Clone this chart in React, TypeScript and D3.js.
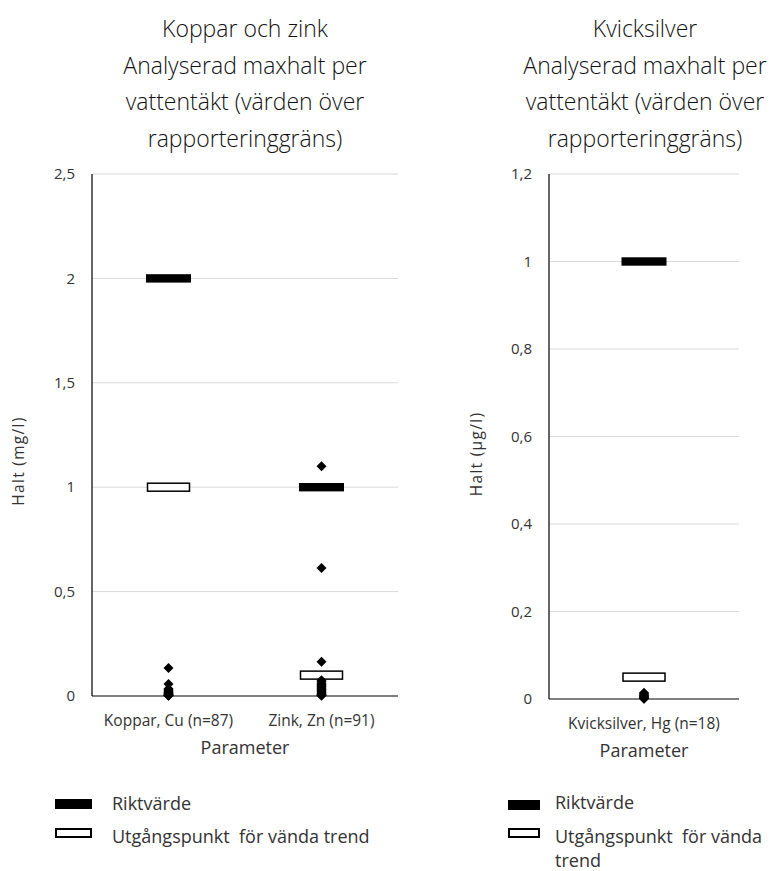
import React from "react";
import * as d3 from "d3";

// ---------- Data ----------
const leftTitle = ["Koppar och zink", "Analyserad maxhalt per", "vattentäkt (värden över", "rapporteringgräns)"];
const rightTitle = ["Kvicksilver", "Analyserad maxhalt per", "vattentäkt (värden över", "rapporteringgräns)"];

const leftCategories = ["Koppar, Cu (n=87)", "Zink, Zn (n=91)"];
const leftRiktvarde = [2, 1];
const leftUtgang = [1, 0.1];
const kopparValues = [0.134, 0.058, 0.035, 0.03, 0.025, 0.02, 0.018, 0.015, 0.012, 0.01, 0.008, 0.006, 0.005, 0.004, 0.003, 0.002, 0.001];
const zinkValues = [1.1, 0.613, 0.164, 0.075, 0.068, 0.06, 0.055, 0.05, 0.045, 0.04, 0.035, 0.03, 0.025, 0.02, 0.015, 0.01, 0.008, 0.005, 0.003, 0.001];
const leftTicks = [0, 0.5, 1, 1.5, 2, 2.5];
const leftYLabel = "Halt (mg/l)";

const rightCategories = ["Kvicksilver, Hg (n=18)"];
const rightRiktvarde = [1];
const rightUtgang = [0.05];
const hgValues = [0.014, 0.012, 0.01, 0.008, 0.006, 0.005, 0.004, 0.003, 0.002, 0.001, 0.0005];
const rightTicks = [0, 0.2, 0.4, 0.6, 0.8, 1, 1.2];
const rightYLabel = "Halt (µg/l)";

const xLabel = "Parameter";
const legendRikt = "Riktvärde";
const legendUtg = "Utgångspunkt  för vända trend";
const legendUtgLine1 = "Utgångspunkt  för vända";
const legendUtgLine2 = "trend";

// ---------- Helpers ----------
const sv = d3.formatLocale({ decimal: ",", thousands: "\u00a0", grouping: [3], currency: ["", " kr"] });
const fmt = sv.format("~g");
const FONT = "'Open Sans', 'Noto Sans', sans-serif";
const diamond = d3.symbol(d3.symbolSquare, 50)() as string;

type PanelProps = {
  categories: string[];
  series: number[][];
  rikt: number[];
  utg: number[];
  ticks: number[];
  yMax: number;
  x0: number;
  x1: number;
  yTop: number;
  yBottom: number;
  yLabel: string;
  yLabelX: number;
  yLabelY: number;
  title: string[];
  titleX: number;
};

function Panel(p: PanelProps) {
  const x = d3.scaleBand<string>().domain(p.categories).range([p.x0, p.x1]);
  const y = d3.scaleLinear().domain([0, p.yMax]).range([p.yBottom, p.yTop]);
  const cx = (c: string) => (x(c) as number) + x.bandwidth() / 2;
  return (
    <g>
      {p.title.map((t, i) => (
        <text key={i} x={p.titleX} y={37 + i * 36.7} textAnchor="middle" fontFamily={FONT} fontWeight={300} fontSize={23} fill="#111">
          {t}
        </text>
      ))}
      {p.ticks.map((t) => (
        <g key={t}>
          {t > 0 && <line x1={p.x0} x2={p.x1} y1={y(t)} y2={y(t)} stroke="#d9d9d9" strokeWidth={1} />}
          <text x={p.x0 - 17} y={y(t)} dy="0.35em" textAnchor="end" fontFamily={FONT} fontSize={15} fill="#333">
            {fmt(t)}
          </text>
        </g>
      ))}
      <line x1={p.x0} x2={p.x0} y1={p.yTop} y2={p.yBottom} stroke="#000" strokeWidth={1.2} />
      <line x1={p.x0} x2={p.x1} y1={p.yBottom} y2={p.yBottom} stroke="#000" strokeWidth={1.2} />
      {p.categories.map((c, i) => (
        <g key={c}>
          <rect x={cx(c) - 22.5} y={y(p.rikt[i]) - 4.2} width={45} height={8.4} fill="#000" />
          <rect x={cx(c) - 21} y={y(p.utg[i]) - 4} width={42} height={8} fill="#fff" stroke="#000" strokeWidth={1.5} />
          {p.series[i].map((v, j) => (
            <path key={j} d={diamond} transform={`translate(${cx(c)},${y(v)}) rotate(45)`} fill="#000" />
          ))}
          <text x={cx(c)} y={p.yBottom + 30} textAnchor="middle" fontFamily={FONT} fontSize={15.5} fill="#333">
            {c}
          </text>
        </g>
      ))}
      <text x={(p.x0 + p.x1) / 2} y={p.yBottom + 58} textAnchor="middle" fontFamily={FONT} fontSize={18} fill="#333">
        {xLabel}
      </text>
      <text
        transform={`translate(${p.yLabelX},${p.yLabelY}) rotate(-90)`}
        textAnchor="middle"
        fontFamily={FONT}
        fontSize={15.5}
        letterSpacing={1.3}
        fill="#333"
      >
        {p.yLabel}
      </text>
    </g>
  );
}

export default function App() {
  return (
    <svg width={784} height={871} style={{ position: "absolute", left: 0, top: 0, background: "#fff" }}>
      <rect width={784} height={871} fill="#fff" />
      <Panel
        categories={leftCategories}
        series={[kopparValues, zinkValues]}
        rikt={leftRiktvarde}
        utg={leftUtgang}
        ticks={leftTicks}
        yMax={2.5}
        x0={92}
        x1={398}
        yTop={174}
        yBottom={696}
        yLabel={leftYLabel}
        yLabelX={24}
        yLabelY={461}
        title={leftTitle}
        titleX={245}
      />
      <Panel
        categories={rightCategories}
        series={[hgValues]}
        rikt={rightRiktvarde}
        utg={rightUtgang}
        ticks={rightTicks}
        yMax={1.2}
        x0={549}
        x1={739}
        yTop={174}
        yBottom={699}
        yLabel={rightYLabel}
        yLabelX={482}
        yLabelY={454}
        title={rightTitle}
        titleX={645}
      />
      {/* Left legend */}
      <rect x={55} y={799} width={37} height={10} fill="#000" />
      <rect x={56} y={829} width={35} height={8} fill="#fff" stroke="#000" strokeWidth={2} />
      <text x={112} y={810} fontFamily={FONT} fontSize={18} fill="#333">{legendRikt}</text>
      <text x={112} y={843} fontFamily={FONT} fontSize={18} fill="#333" style={{ whiteSpace: "pre" }}>{legendUtg}</text>
      {/* Right legend */}
      <rect x={508} y={800} width={32} height={10} fill="#000" />
      <rect x={509} y={829} width={30} height={8} fill="#fff" stroke="#000" strokeWidth={2} />
      <text x={555} y={809} fontFamily={FONT} fontSize={18} fill="#333">{legendRikt}</text>
      <text x={555} y={843} fontFamily={FONT} fontSize={18} fill="#333" style={{ whiteSpace: "pre" }}>{legendUtgLine1}</text>
      <text x={555} y={867} fontFamily={FONT} fontSize={18} fill="#333">{legendUtgLine2}</text>
    </svg>
  );
}
